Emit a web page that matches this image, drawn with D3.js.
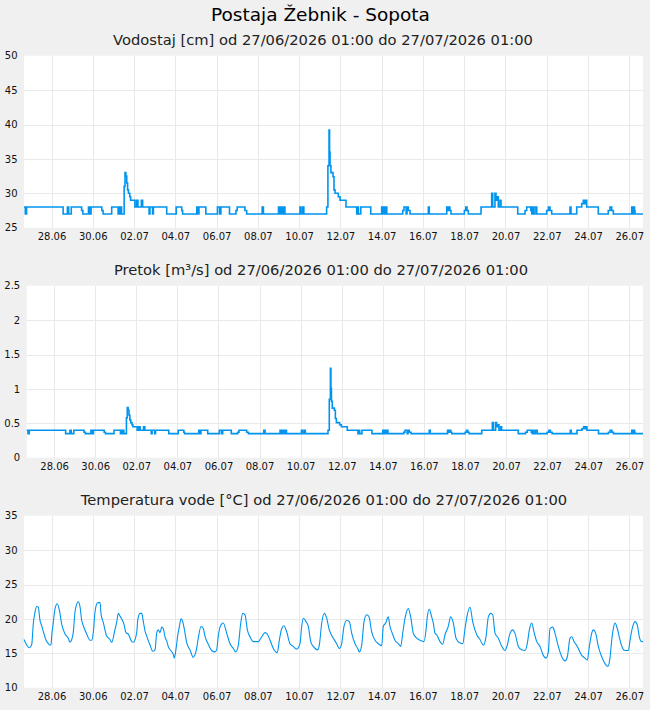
<!DOCTYPE html>
<html>
<head>
<meta charset="utf-8">
<script src="https://cdn.jsdelivr.net/npm/d3@7"></script>
<style>
  body { margin: 0; background: #f0f0f0; font-family: "DejaVu Sans", sans-serif; }
  .grid line { stroke: #e9e9e9; stroke-width: 1; shape-rendering: crispEdges; }
  .tick-label { font-size: 10px; fill: #111; }
</style>
</head>
<body>
<div id="chart"></div>
<script>
// period shown
var startTime = new Date(2026, 5, 27, 1, 0);
var endTime = new Date(2026, 6, 27, 1, 0);

var mainTitle = "Postaja Žebnik - Sopota";
var panelTitles = [
    "Vodostaj [cm] od 27/06/2026 01:00 do 27/07/2026 01:00",
    "Pretok [m³/s] od 27/06/2026 01:00 do 27/07/2026 01:00",
    "Temperatura vode [°C] od 27/06/2026 01:00 do 27/07/2026 01:00"
];

var xTickLabels = ["28.06", "30.06", "02.07", "04.07", "06.07", "08.07", "10.07", "12.07",
    "14.07", "16.07", "18.07", "20.07", "22.07", "24.07", "26.07"];

var levelTicks = [25, 30, 35, 40, 45, 50];
var flowTicks = [0, 0.5, 1, 1.5, 2, 2.5];
var tempTicks = [10, 15, 20, 25, 30, 35];

// water level [cm], [hours from start, value] at each change
var levelSteps = [
    [0, 28], [1.5, 27], [3, 28],
    [45.5, 27], [50.5, 28], [52, 27], [55, 28],
    [67, 27.5], [68.5, 27],
    [75, 28], [76.5, 27], [78, 28],
    [90.5, 27.5], [92, 27],
    [102, 28], [109.5, 27], [110.5, 28], [111.5, 27], [112.5, 28], [113.5, 27],
    [116.5, 31], [117.5, 33], [118.5, 32.5], [119.5, 31.5], [120.5, 30.5], [121.5, 30], [123, 29.5], [124, 29],
    [129, 28], [131, 29], [132.5, 28], [136.5, 29], [138, 28],
    [145.5, 27], [146.5, 28], [149.5, 27], [150.5, 28],
    [166, 27],
    [177, 28], [183.5, 27.5], [184.5, 27],
    [201, 28], [202.5, 27], [203.5, 28], [211.5, 27],
    [225, 28], [227.5, 27], [229, 28],
    [239, 27],
    [246.5, 27.5], [248, 28], [257, 27.5], [259, 27],
    [277, 28], [278.5, 27],
    [296, 28], [297, 27], [298, 28], [299, 27], [300.5, 28], [301.5, 27], [302.5, 28], [303.5, 27],
    [321, 28], [322, 27], [324, 28], [325.5, 27],
    [352, 28], [353.5, 34], [354.8, 39.2], [355.4, 36], [356, 34], [357, 33], [359.4, 32.4], [360.6, 30.5],
    [361.8, 30], [365.6, 29.5], [367.6, 29], [374.5, 28],
    [387, 27], [388, 28], [389, 27],
    [391.7, 28], [403.3, 27],
    [416, 28], [417.3, 27], [418.8, 28], [420, 27], [421, 28], [422, 27],
    [440.5, 27.5], [442, 28], [444.5, 27], [445.5, 28], [447, 27.5], [449, 27],
    [470.3, 28], [471.4, 27],
    [491.7, 28], [492.8, 27.5], [494.3, 28], [495.4, 27.5], [496.6, 27],
    [512.2, 27.5], [513.8, 28], [515.3, 27.5], [516.8, 27],
    [531.6, 28],
    [544, 30], [545.2, 28], [547.8, 30], [549, 29], [550.2, 29.5], [551.7, 28], [553.7, 29], [554.8, 28],
    [574.3, 27],
    [582.8, 27.5], [584.7, 28], [589.4, 27.5], [590.6, 27], [591.2, 28], [592.4, 27], [594.4, 28], [596.4, 27],
    [608, 27.5], [610, 28], [611.8, 27.5], [613.8, 27],
    [635.1, 28], [636.2, 27],
    [642.9, 28], [648.7, 28.5], [650.6, 29], [651.7, 28.5], [652.9, 29], [654.5, 28],
    [668, 27],
    [679.6, 27.5], [681.6, 28], [683.6, 27.5], [685.5, 27],
    [706.9, 28], [708.1, 27], [709.2, 28], [710.1, 27.5], [710.7, 27],
    [720, 27]
];

// discharge [m3/s]
var flowSteps = [
    [0, 0.40], [1.5, 0.35], [3, 0.40],
    [45.5, 0.35], [50.5, 0.40], [52, 0.35], [55, 0.40],
    [67, 0.37], [68.5, 0.35],
    [75, 0.40], [76.5, 0.35], [78, 0.40],
    [90.5, 0.37], [92, 0.35],
    [102, 0.40], [109.5, 0.35], [110.5, 0.40], [111.5, 0.35], [112.5, 0.40], [113.5, 0.35],
    [116.5, 0.58], [117.5, 0.73], [118.5, 0.69], [119.5, 0.62], [120.5, 0.55], [121.5, 0.51], [123, 0.48], [124, 0.45],
    [129, 0.40], [131, 0.45], [132.5, 0.40], [136.5, 0.45], [138, 0.40],
    [145.5, 0.35], [146.5, 0.40], [149.5, 0.35], [150.5, 0.40],
    [166, 0.35],
    [177, 0.40], [183.5, 0.37], [184.5, 0.35],
    [201, 0.40], [202.5, 0.35], [203.5, 0.40], [211.5, 0.35],
    [225, 0.40], [227.5, 0.35], [229, 0.40],
    [239, 0.35],
    [246.5, 0.37], [248, 0.40], [257, 0.37], [259, 0.35],
    [277, 0.40], [278.5, 0.35],
    [296, 0.40], [297, 0.35], [298, 0.40], [299, 0.35], [300.5, 0.40], [301.5, 0.35], [302.5, 0.40], [303.5, 0.35],
    [321, 0.40], [322, 0.35], [324, 0.40], [325.5, 0.35],
    [352, 0.40], [353.5, 0.85], [354.8, 1.30], [355.4, 1.01], [356, 0.82], [357, 0.72], [359.4, 0.69], [360.6, 0.57],
    [361.8, 0.51], [365.6, 0.48], [367.6, 0.45], [374.5, 0.40],
    [387, 0.35], [388, 0.40], [389, 0.35],
    [391.7, 0.40], [403.3, 0.35],
    [416, 0.40], [417.3, 0.35], [418.8, 0.40], [420, 0.35], [421, 0.40], [422, 0.35],
    [440.5, 0.37], [442, 0.40], [444.5, 0.35], [445.5, 0.40], [447, 0.37], [449, 0.35],
    [470.3, 0.40], [471.4, 0.35],
    [491.7, 0.40], [492.8, 0.37], [494.3, 0.40], [495.4, 0.37], [496.6, 0.35],
    [512.2, 0.37], [513.8, 0.40], [515.3, 0.37], [516.8, 0.35],
    [531.6, 0.40],
    [544, 0.51], [545.2, 0.40], [547.8, 0.51], [549, 0.45], [550.2, 0.48], [551.7, 0.40], [553.7, 0.45], [554.8, 0.40],
    [574.3, 0.35],
    [582.8, 0.37], [584.7, 0.40], [589.4, 0.37], [590.6, 0.35], [591.2, 0.40], [592.4, 0.35], [594.4, 0.40], [596.4, 0.35],
    [608, 0.37], [610, 0.40], [611.8, 0.37], [613.8, 0.35],
    [635.1, 0.40], [636.2, 0.35],
    [642.9, 0.40], [648.7, 0.42], [650.6, 0.45], [651.7, 0.42], [652.9, 0.45], [654.5, 0.40],
    [668, 0.35],
    [679.6, 0.37], [681.6, 0.40], [683.6, 0.37], [685.5, 0.35],
    [706.9, 0.40], [708.1, 0.35], [709.2, 0.40], [710.1, 0.37], [710.7, 0.35],
    [720, 0.35]
];

// water temperature [C]
var tempPoints = [
    [0, 17.0], [6.2, 15.8], [9.0, 16.3], [10.8, 19.3], [12.8, 21.0], [14.8, 21.8], [16.6, 21.7], [18.6, 19.8],
    [20.6, 19.0], [22.4, 18.2], [26.4, 16.7], [28.3, 16.4], [30.2, 16.2], [31.4, 16.2], [32.2, 17.5], [34.1, 19.5],
    [36.1, 21.5], [38.7, 22.2], [41.1, 21.3], [43.9, 19.2], [47.7, 17.8], [51.5, 17.2], [53.5, 16.6], [55.5, 17.0],
    [57.3, 18.0], [59.3, 21.0], [60.5, 21.8], [63.2, 22.5], [65.1, 21.8], [67.1, 19.8], [69.0, 19.0], [72.9, 17.8],
    [76.8, 16.9], [78.7, 16.9], [80.6, 18.0], [82.6, 21.0], [85.3, 22.3], [88.4, 22.4], [89.6, 20.7], [92.2, 19.5],
    [96.2, 17.5], [100.0, 17.0], [102.0, 16.6], [105.9, 18.5], [107.8, 19.5], [109.7, 20.8], [111.7, 20.4], [113.6, 20.0],
    [116.3, 19.2], [118.6, 18.0], [121.3, 17.8], [125.3, 16.7], [127.1, 16.6], [131.1, 18.0], [132.3, 19.8], [134.9, 20.8],
    [136.9, 20.8], [138.8, 19.6], [140.7, 18.3], [142.7, 17.5], [146.6, 16.2], [149.7, 15.3], [152.4, 15.5], [154.4, 18.0],
    [156.2, 18.4], [158.2, 18.0], [160.2, 18.8], [162.0, 18.6], [164.0, 17.4], [166.0, 16.8], [167.8, 16.0], [170.6, 15.4],
    [173.7, 14.8], [174.8, 14.3], [176.8, 15.6], [178.8, 17.6], [180.6, 18.8], [182.6, 20.0], [184.6, 19.6], [186.5, 18.5],
    [189.3, 16.5], [193.1, 15.5], [196.9, 14.4], [198.9, 14.8], [200.9, 15.8], [202.7, 17.2], [205.9, 18.9], [208.6, 18.6],
    [210.5, 17.5], [214.4, 16.3], [218.3, 15.4], [222.2, 15.2], [224.1, 15.5], [226.0, 17.5], [228.0, 18.8], [231.8, 19.4],
    [235.8, 17.9], [239.6, 16.4], [243.5, 15.7], [246.2, 15.2], [249.3, 16.2], [252.1, 19.4], [254.4, 20.8], [257.1, 20.6],
    [259.8, 18.4], [262.9, 17.4], [266.7, 16.7], [272.5, 16.7], [276.5, 17.4], [280.3, 18.0], [282.3, 17.9], [286.2, 16.9],
    [290.0, 15.7], [294.6, 15.1], [297.0, 16.9], [299.8, 18.6], [302.4, 19.0], [305.6, 18.1], [309.4, 16.4], [313.2, 16.0],
    [317.2, 15.6], [321.0, 16.4], [323.0, 18.9], [324.9, 20.1], [328.0, 19.6], [330.7, 18.9], [333.5, 16.7], [336.5, 16.0],
    [341.2, 15.5], [343.5, 16.2], [346.3, 19.4], [349.3, 20.8], [352.1, 20.1], [355.1, 18.4], [359.8, 17.2], [363.7, 16.4],
    [366.7, 15.7], [369.5, 16.4], [372.2, 18.9], [375.4, 19.8], [378.4, 19.6], [381.2, 17.9], [385.0, 16.4], [388.2, 15.7],
    [390.0, 15.2], [392.8, 16.2], [395.5, 19.6], [398.6, 20.6], [401.3, 20.3], [404.4, 18.1], [408.3, 16.9], [412.1, 16.4],
    [416.1, 16.1], [417.9, 18.9], [420.7, 19.4], [423.7, 20.3], [425.7, 18.9], [428.4, 17.9], [431.5, 16.9], [435.4, 16.4],
    [438.2, 16.0], [440.5, 17.9], [443.2, 20.1], [447.0, 21.5], [449.8, 20.3], [452.8, 17.9], [456.8, 17.2], [460.6, 16.9],
    [465.3, 16.7], [467.6, 18.4], [469.1, 20.3], [471.4, 21.4], [474.2, 20.3], [476.1, 19.4], [478.1, 17.9], [480.0, 17.7],
    [483.9, 16.7], [487.0, 16.3], [489.7, 17.7], [493.5, 18.9], [496.3, 20.3], [499.4, 19.4], [502.5, 17.2], [507.2, 16.5],
    [510.3, 16.4], [513.0, 18.6], [515.6, 20.6], [518.8, 21.7], [521.9, 19.6], [526.6, 17.7], [530.4, 17.0], [534.3, 16.2],
    [537.4, 17.4], [540.1, 20.3], [542.9, 20.8], [545.2, 20.6], [547.9, 17.9], [551.7, 17.2], [555.7, 16.0], [559.5, 15.4],
    [562.2, 16.2], [565.3, 17.9], [568.5, 18.4], [571.1, 17.9], [575.0, 16.0], [578.9, 15.5], [582.8, 15.4], [585.4, 16.4],
    [587.8, 18.4], [590.6, 19.4], [593.2, 18.1], [596.4, 16.7], [600.2, 16.0], [604.0, 14.7], [607.2, 14.3], [609.9, 15.2],
    [611.8, 18.6], [615.0, 18.8], [617.7, 17.9], [621.5, 16.0], [625.5, 14.5], [629.3, 13.9], [632.0, 14.5], [635.1, 17.2],
    [637.1, 17.4], [639.8, 16.7], [643.6, 16.0], [648.7, 14.7], [652.6, 14.3], [655.2, 14.0], [657.6, 16.0], [660.3, 17.9],
    [662.2, 18.4], [665.0, 17.9], [668.0, 16.0], [672.0, 14.5], [675.8, 13.5], [679.0, 13.1], [681.6, 14.3], [683.6, 16.9],
    [685.5, 18.6], [687.5, 19.4], [690.1, 18.6], [693.3, 16.9], [696.4, 15.7], [699.1, 15.4], [703.0, 15.4], [704.9, 16.9],
    [708.1, 18.9], [710.7, 19.6], [713.4, 19.1], [715.7, 17.4], [718.5, 16.7], [720, 16.7]
];

var width = 650;
var height = 710;
var lineColor = "#0094ef";

var svg = d3.select("#chart")
    .append("svg")
    .attr("width", width)
    .attr("height", height)
    .style("display", "block");

svg.append("rect")
    .attr("width", width)
    .attr("height", height)
    .attr("fill", "#f0f0f0");

// main title
svg.append("text")
    .attr("x", 320.5)
    .attr("y", 21)
    .attr("text-anchor", "middle")
    .style("font-size", "18.5px")
    .style("fill", "#000")
    .text(mainTitle);

function toDate(h) {
    return new Date(startTime.getTime() + h * 3600000);
}

var parseTick = d3.timeParse("%d.%m %Y %H");
var tickDates = xTickLabels.map(function (l) { return parseTick(l + " 2026 09"); });

function drawPanel(p) {
    var g = svg.append("g");

    g.append("text")
        .attr("x", p.titleX)
        .attr("y", p.titleY)
        .attr("text-anchor", "middle")
        .style("font-size", "14.7px")
        .style("fill", "#222")
        .text(p.title);

    var x = d3.scaleTime()
        .domain([startTime, endTime])
        .range([p.left, 643]);

    var y = d3.scaleLinear()
        .domain([p.ticks[0], p.ticks[p.ticks.length - 1]])
        .range([p.top + 172, p.top]);

    g.append("rect")
        .attr("x", p.left)
        .attr("y", p.top)
        .attr("width", 643 - p.left)
        .attr("height", 172)
        .attr("fill", "#fff");

    // grid
    var grid = g.append("g").attr("class", "grid");
    grid.selectAll(".gx")
        .data(tickDates)
        .join("line")
        .attr("x1", d => Math.round(x(d)) + 0.5)
        .attr("x2", d => Math.round(x(d)) + 0.5)
        .attr("y1", p.top)
        .attr("y2", p.top + 172);
    grid.selectAll(".gy")
        .data(p.ticks.slice(1, -1))
        .join("line")
        .attr("class", "gy")
        .attr("x1", p.left)
        .attr("x2", 643)
        .attr("y1", d => Math.round(y(d)) + 0.5)
        .attr("y2", d => Math.round(y(d)) + 0.5);

    // axes
    var yAxis = d3.axisLeft(y)
        .tickValues(p.ticks)
        .tickSize(0)
        .tickPadding(6.5)
        .tickFormat(d3.format("~g"));
    g.append("g")
        .attr("transform", "translate(" + p.left + ",0)")
        .call(yAxis)
        .call(a => a.select(".domain").remove())
        .selectAll("text")
        .attr("class", "tick-label")
        .style("font-family", "DejaVu Sans");

    var xAxis = d3.axisBottom(x)
        .tickValues(tickDates)
        .tickSize(0)
        .tickPadding(5)
        .tickFormat((d, i) => xTickLabels[i]);
    g.append("g")
        .attr("transform", "translate(0," + (p.top + 172) + ")")
        .call(xAxis)
        .call(a => a.select(".domain").remove())
        .selectAll("text")
        .attr("class", "tick-label")
        .style("font-family", "DejaVu Sans");

    var line = d3.line()
        .x(d => x(toDate(d[0])))
        .y(d => y(d[1]))
        .curve(p.curve);

    g.append("path")
        .datum(p.data)
        .attr("fill", "none")
        .attr("stroke", lineColor)
        .attr("stroke-width", p.stroke)
        .attr("stroke-linejoin", "miter")
        .attr("d", line);
}

drawPanel({ title: panelTitles[0], titleX: 323, titleY: 45, left: 24, top: 55.7,
    ticks: levelTicks, data: levelSteps, curve: d3.curveStepAfter, stroke: 1.6 });
drawPanel({ title: panelTitles[1], titleX: 321, titleY: 275, left: 26.7, top: 285.7,
    ticks: flowTicks, data: flowSteps, curve: d3.curveStepAfter, stroke: 1.6 });
drawPanel({ title: panelTitles[2], titleX: 324, titleY: 505, left: 24, top: 515.7,
    ticks: tempTicks, data: tempPoints, curve: d3.curveMonotoneX, stroke: 1.1 });
</script>
</body>
</html>
